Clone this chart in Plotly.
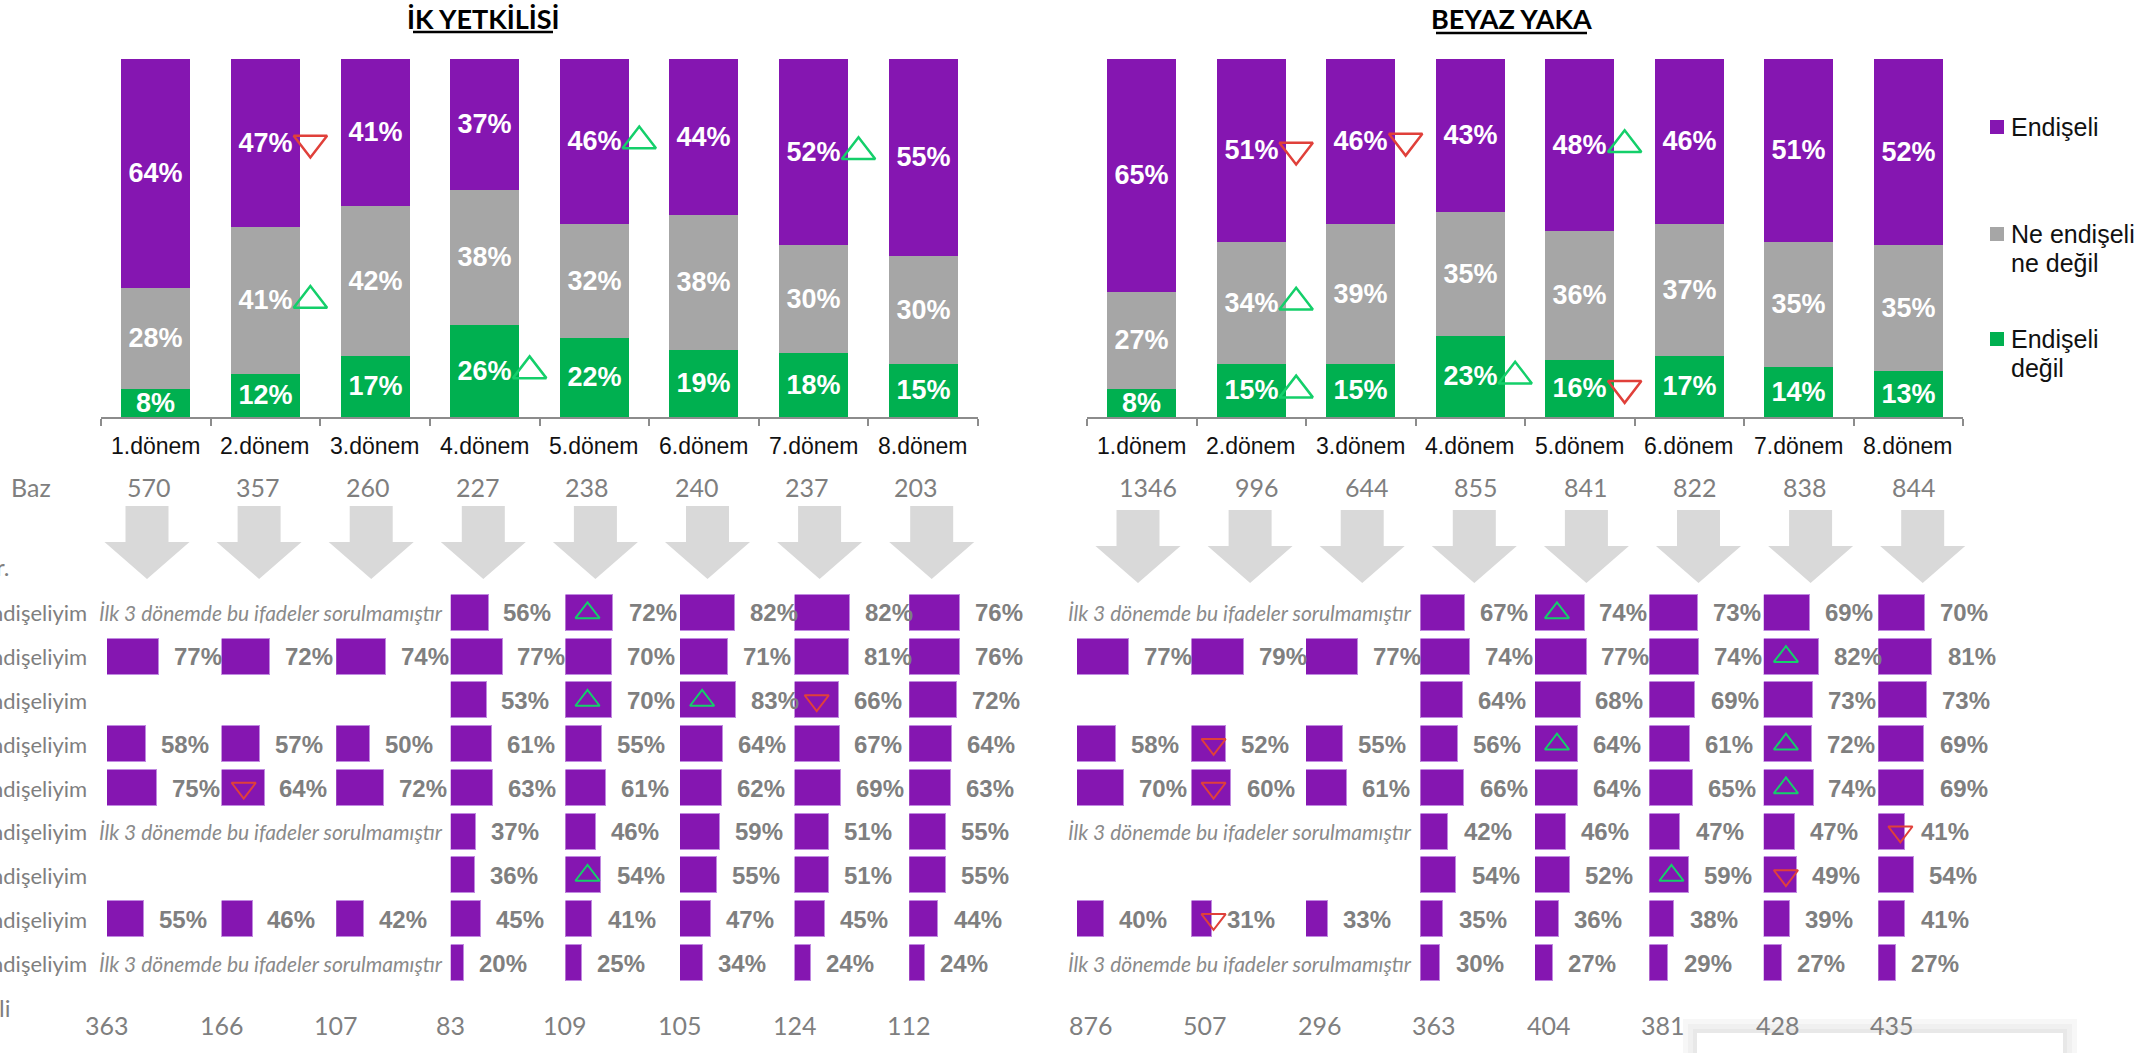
import plotly.graph_objects as go

W, H = 2143, 1053

# ---------------- DATA ----------------
periods = ["1.dönem", "2.dönem", "3.dönem", "4.dönem", "5.dönem", "6.dönem", "7.dönem", "8.dönem"]
legend_labels = ["Endişeli", "Ne endişeli<br>ne değil", "Endişeli<br>değil"]
titles = ["İK YETKİLİSİ", "BEYAZ YAKA"]

ik_endiseli = [64, 47, 41, 37, 46, 44, 52, 55]
ik_notr = [28, 41, 42, 38, 32, 38, 30, 30]
ik_degil = [8, 12, 17, 26, 22, 19, 18, 15]

by_endiseli = [65, 51, 46, 43, 48, 46, 51, 52]
by_notr = [27, 34, 39, 35, 36, 37, 35, 35]
by_degil = [8, 15, 15, 23, 16, 17, 14, 13]

ik_base = [570, 357, 260, 227, 238, 240, 237, 203]
by_base = [1346, 996, 644, 855, 841, 822, 838, 844]
ik_sub_base = [363, 166, 107, 83, 109, 105, 124, 112]
by_sub_base = [876, 507, 296, 363, 404, 381, 428, 435]

# significance markers on stacked bars: (period index, segment, direction)
ik_top_sig = [(1, "endiseli", "down"), (1, "notr", "up"), (3, "degil", "up"),
              (4, "endiseli", "up"), (6, "endiseli", "up")]
by_top_sig = [(1, "endiseli", "down"), (2, "endiseli", "down"), (1, "notr", "up"),
              (1, "degil", "up"), (3, "degil", "up"), (4, "endiseli", "up"), (4, "degil", "down")]

# statement rows (9 statements x 8 periods), None = not asked
ik_s1 = [None, None, None, 56, 72, 82, 82, 76]
ik_s2 = [77, 72, 74, 77, 70, 71, 81, 76]
ik_s3 = [None, None, None, 53, 70, 83, 66, 72]
ik_s4 = [58, 57, 50, 61, 55, 64, 67, 64]
ik_s5 = [75, 64, 72, 63, 61, 62, 69, 63]
ik_s6 = [None, None, None, 37, 46, 59, 51, 55]
ik_s7 = [None, None, None, 36, 54, 55, 51, 55]
ik_s8 = [55, 46, 42, 45, 41, 47, 45, 44]
ik_s9 = [None, None, None, 20, 25, 34, 24, 24]

by_s1 = [None, None, None, 67, 74, 73, 69, 70]
by_s2 = [77, 79, 77, 74, 77, 74, 82, 81]
by_s3 = [None, None, None, 64, 68, 69, 73, 73]
by_s4 = [58, 52, 55, 56, 64, 61, 72, 69]
by_s5 = [70, 60, 61, 66, 64, 65, 74, 69]
by_s6 = [None, None, None, 42, 46, 47, 47, 41]
by_s7 = [None, None, None, 54, 52, 59, 49, 54]
by_s8 = [40, 31, 33, 35, 36, 38, 39, 41]
by_s9 = [None, None, None, 30, 27, 29, 27, 27]

row_label = "ndişeliyim"
note_text = "İlk 3 dönemde bu ifadeler sorulmamıştır"
note_rows = [0, 5, 8]

# significance in statement grid: (period index, row index, direction)
ik_sub_sig = [(4, 0, "up"), (4, 2, "up"), (5, 2, "up"), (6, 2, "down"), (1, 4, "down"), (4, 6, "up")]
by_sub_sig = [(4, 0, "up"), (6, 1, "up"), (1, 3, "down"), (4, 3, "up"), (6, 3, "up"), (1, 4, "down"),
              (6, 4, "up"), (7, 5, "down"), (5, 6, "up"), (6, 6, "down"), (1, 7, "down")]

# ---------------- STYLE ----------------
ARIAL = "Liberation Sans, Arial, sans-serif"
CAL = "Lato, Open Sans, sans-serif"
PURPLE = "#8516B1"
GRAY = "#A6A6A6"
GREEN = "#00B050"
SIG_UP = "#14CF6A"
SIG_DOWN = "#E0403A"
TXT_GRAY = "#7F7F7F"
colors = {"endiseli": PURPLE, "notr": GRAY, "degil": GREEN}


def px(x):
    return x / W


def py(y):
    return 1 - y / H


fig = go.Figure()
annotations = []
shapes = []
layout_axes = {}

# ---------------- TOP STACKED CHARTS ----------------
top_sets = [
    ("x", "y", ik_endiseli, ik_notr, ik_degil, ik_top_sig, 101, 978, ik_base, -7),
    ("x2", "y2", by_endiseli, by_notr, by_degil, by_top_sig, 1087, 1963, by_base, 6),
]
y_top, y_bot = 58.7, 417.0
for idx, (xa, ya, e, n, d, sig, xl, xr, base, bshift) in enumerate(top_sets):
    raw = {"degil": d, "notr": n, "endiseli": e}
    tot = [a + b + c for a, b, c in zip(e, n, d)]
    cum = [0.0] * 8
    centers = {}
    for key in ["degil", "notr", "endiseli"]:
        norm = [v / t * 100 for v, t in zip(raw[key], tot)]
        centers[key] = [c + v / 2 for c, v in zip(cum, norm)]
        cum = [c + v for c, v in zip(cum, norm)]
        fig.add_trace(go.Bar(
            x=list(range(8)), y=norm, text=[f"<b>{v}%</b>" for v in raw[key]],
            textposition="inside", insidetextanchor="middle", textangle=0,
            constraintext="none",
            insidetextfont=dict(family=ARIAL, size=27, color="white"),
            marker=dict(color=colors[key], line=dict(width=0)),
            width=0.63, xaxis=xa, yaxis=ya, showlegend=False, hoverinfo="skip"))
    for dirn in ["up", "down"]:
        pts = [(i + 0.41, centers[key][i]) for (i, key, dd) in sig if dd == dirn]
        if pts:
            col = SIG_UP if dirn == "up" else SIG_DOWN
            fig.add_trace(go.Scatter(
                x=[p[0] for p in pts], y=[p[1] for p in pts], mode="markers",
                marker=dict(symbol="triangle-up-open" if dirn == "up" else "triangle-down-open",
                            size=29, color=col, line=dict(width=2.5, color=col)),
                xaxis=xa, yaxis=ya, showlegend=False, hoverinfo="skip", cliponaxis=False))
    sfx = "" if idx == 0 else "2"
    layout_axes["xaxis" + sfx] = dict(
        domain=[px(xl), px(xr)], range=[-0.5, 7.5], anchor="y" + sfx,
        showline=True, linecolor="#8C8C8C", linewidth=2, showgrid=False, zeroline=False,
        tickmode="array", tickvals=[k - 0.5 for k in range(9)], ticktext=[""] * 9,
        ticks="outside", ticklen=7, tickwidth=2, tickcolor="#8C8C8C", fixedrange=True)
    layout_axes["yaxis" + sfx] = dict(
        domain=[py(y_bot), py(y_top)], range=[0, 100], anchor="x" + sfx,
        visible=False, fixedrange=True)
    for i, p in enumerate(periods):
        annotations.append(dict(x=i, xref=xa, y=py(446), yref="paper", text=p, showarrow=False,
                                font=dict(family=ARIAL, size=23, color="#111111"),
                                xanchor="center", yanchor="middle"))
        annotations.append(dict(x=i, xref=xa, y=py(487), yref="paper", text=str(base[i]),
                                showarrow=False, xshift=bshift,
                                font=dict(family=CAL, size=25, color=TXT_GRAY),
                                xanchor="center", yanchor="middle"))

# titles with underline
for t, cx, x0u, x1u, yu in [(titles[0], 483, 413, 553, 32), (titles[1], 1511, 1436, 1587, 33)]:
    annotations.append(dict(x=px(cx), y=py(19), xref="paper", yref="paper", text=f"<b>{t}</b>",
                            showarrow=False, font=dict(family=CAL, size=27, color="#000000"),
                            xanchor="center", yanchor="middle"))
    shapes.append(dict(type="line", xref="paper", yref="paper", x0=px(x0u), x1=px(x1u),
                       y0=py(yu), y1=py(yu), line=dict(color="#000000", width=2.5)))

# legend
leg_y = [[127], [234, 263], [339, 368]]
for lab, ys, key in zip(legend_labels, leg_y, ["endiseli", "notr", "degil"]):
    shapes.append(dict(type="rect", xref="paper", yref="paper", x0=px(1990), x1=px(2004),
                       y0=py(ys[0] + 7), y1=py(ys[0] - 7), fillcolor=colors[key], line=dict(width=0)))
    for line_txt, yy in zip(lab.split("<br>"), ys):
        annotations.append(dict(x=px(2009), y=py(yy), xref="paper", yref="paper", text=line_txt,
                                showarrow=False, font=dict(family=ARIAL, size=25, color="#111111"),
                                xanchor="left", yanchor="middle"))

# "Baz" and cut labels at left edge
annotations.append(dict(x=px(31), y=py(487), xref="paper", yref="paper", text="Baz", showarrow=False,
                        font=dict(family=CAL, size=25, color=TXT_GRAY), xanchor="center", yanchor="middle"))
annotations.append(dict(x=px(11), y=py(566), xref="paper", yref="paper", text="r.", showarrow=False,
                        font=dict(family=CAL, size=24, color=TXT_GRAY), xanchor="right", yanchor="middle"))
annotations.append(dict(x=px(12), y=py(1007), xref="paper", yref="paper", text="li", showarrow=False,
                        font=dict(family=CAL, size=24, color=TXT_GRAY), xanchor="right", yanchor="middle"))

# big down arrows
for cx0, top in [(147, 506), (1138, 510)]:
    for i in range(8):
        cx = cx0 + 112.1 * i
        hy, tip = top + 36, top + 73
        path = (f"M {px(cx - 21.5)},{py(top)} L {px(cx + 21.5)},{py(top)} L {px(cx + 21.5)},{py(hy)} "
                f"L {px(cx + 42.5)},{py(hy)} L {px(cx)},{py(tip)} L {px(cx - 42.5)},{py(hy)} "
                f"L {px(cx - 21.5)},{py(hy)} Z")
        shapes.append(dict(type="path", xref="paper", yref="paper", path=path,
                           fillcolor="#D9D9D9", line=dict(width=0), layer="below"))

# ---------------- STATEMENT GRID ----------------
ik_rows = [ik_s1, ik_s2, ik_s3, ik_s4, ik_s5, ik_s6, ik_s7, ik_s8, ik_s9]
by_rows = [by_s1, by_s2, by_s3, by_s4, by_s5, by_s6, by_s7, by_s8, by_s9]
row_top, row_bot = 591.1, 984.9
layout_axes["yaxis3"] = dict(domain=[py(row_bot), py(row_top)], range=[8.5, -0.5], anchor="x3",
                             visible=False, fixedrange=True)
BAR_PX = 67.0  # pixels for 100%
lower_sets = [(ik_rows, ik_sub_sig, ik_sub_base, 107.0, 114.6, 3, 0),
              (by_rows, by_sub_sig, by_sub_base, 1077.0, 114.47, 11, 14)]
for rows, sig, sub_base, x0, pitch, axis0, bdx in lower_sets:
    for c in range(8):
        k = axis0 + c
        start = x0 + pitch * c
        layout_axes[f"xaxis{k}"] = dict(domain=[px(start), px(start + BAR_PX)], range=[0, 100],
                                        anchor="y3", visible=False, fixedrange=True)
        col = [r[c] for r in rows]
        fig.add_trace(go.Bar(x=col, y=list(range(9)), orientation="h", width=0.823,
                             marker=dict(color=PURPLE, line=dict(color="#C08AE0", width=1)),
                             xaxis=f"x{k}", yaxis="y3", showlegend=False, hoverinfo="skip"))
        for r, v in enumerate(col):
            if v is not None:
                annotations.append(dict(x=v, xref=f"x{k}", y=r, yref="y3", text=f"<b>{v}%</b>",
                                        showarrow=False, xanchor="left", yanchor="middle", xshift=13,
                                        font=dict(family=ARIAL, size=24, color=TXT_GRAY)))
        for dirn in ["up", "down"]:
            rr = [r for (cc, r, dd) in sig if cc == c and dd == dirn]
            if rr:
                colr = SIG_UP if dirn == "up" else SIG_DOWN
                fig.add_trace(go.Scatter(
                    x=[33] * len(rr), y=rr, mode="markers",
                    marker=dict(symbol="triangle-up-open" if dirn == "up" else "triangle-down-open",
                                size=21, color=colr, line=dict(width=2, color=colr)),
                    xaxis=f"x{k}", yaxis="y3", showlegend=False, hoverinfo="skip", cliponaxis=False))
        annotations.append(dict(x=px(start + bdx), y=py(1025), xref="paper", yref="paper",
                                text=str(sub_base[c]), showarrow=False,
                                font=dict(family=CAL, size=25, color=TXT_GRAY),
                                xanchor="center", yanchor="middle"))
    # notes for statements not asked in first 3 periods
    note_x = x0 + pitch * 3 - 6
    for r in note_rows:
        annotations.append(dict(x=px(note_x), xref="paper", y=r, yref="y3", text=f"<i>{note_text}</i>",
                                showarrow=False, xanchor="right", yanchor="middle",
                                font=dict(family=CAL, size=21, color="#8A8A8A")))

# row labels (cut at the left edge, as in the source slide)
for r in range(9):
    annotations.append(dict(x=px(89), xref="paper", y=r, yref="y3", text=row_label, showarrow=False,
                            xanchor="right", yanchor="middle",
                            font=dict(family=CAL, size=22, color=TXT_GRAY)))

# white box with soft shadow at bottom right
for pad, colr in [(14, "#F7F7F7"), (9, "#F0F0F0"), (4, "#E8E8E8"), (0, "#FFFFFF")]:
    shapes.append(dict(type="rect", xref="paper", yref="paper", x0=px(1697 - pad), x1=px(2063 + pad),
                       y0=0, y1=py(1033 - pad), fillcolor=colr, line=dict(width=0), layer="below"))

fig.update_layout(
    width=W, height=H, margin=dict(l=0, r=0, t=0, b=0),
    paper_bgcolor="white", plot_bgcolor="rgba(0,0,0,0)",
    barmode="stack", bargap=0, showlegend=False,
    annotations=annotations, shapes=shapes, **layout_axes)

fig.write_html("out.html", config={"displayModeBar": False},
               post_script="document.body.style.margin='0px';document.body.style.overflow='hidden';")
